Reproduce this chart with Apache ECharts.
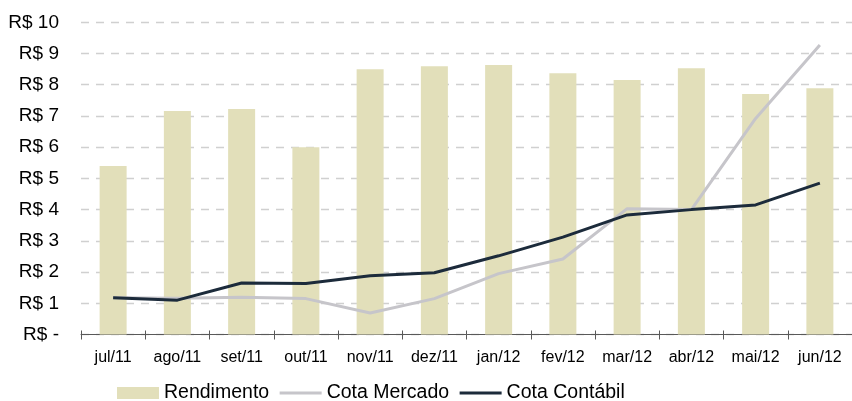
<!DOCTYPE html>
<html>
<head>
<meta charset="utf-8">
<script src="https://cdn.jsdelivr.net/npm/echarts@6/dist/echarts.min.js"></script>
<style>
html,body{margin:0;padding:0;background:#fff;}
#c{width:852px;height:401px;}
</style>
</head>
<body>
<div id="c"></div>
<script>
const categories = ['jul/11','ago/11','set/11','out/11','nov/11','dez/11','jan/12','fev/12','mar/12','abr/12','mai/12','jun/12'];
const rendimento = [5.40, 7.16, 7.22, 6.00, 8.50, 8.59, 8.63, 8.37, 8.15, 8.53, 7.70, 7.89];
const cotaMercado = [1.18, 1.16, 1.19, 1.15, 0.69, 1.15, 1.95, 2.42, 4.03, 4.00, 6.92, 9.27];
const cotaContabil = [1.18, 1.10, 1.65, 1.63, 1.88, 1.98, 2.52, 3.12, 3.83, 4.00, 4.15, 4.85];
const yTicks = {min: 0, max: 10, interval: 1};

const font = 'Liberation Sans, Arial, sans-serif';
const chart = echarts.init(document.getElementById('c'), null, {renderer: 'canvas'});
chart.setOption({
  animation: false,
  backgroundColor: '#ffffff',
  grid: {left: 81, top: 22.3, width: 775, bottom: 66.5, containLabel: false},
  legend: {
    left: 117, top: 383, padding: 0,
    itemWidth: 42, itemHeight: 12, itemGap: 9,
    textStyle: {fontFamily: font, fontSize: 19.5, color: '#000'},
    data: [
      {name: 'Rendimento', icon: 'rect'},
      {name: 'Cota Mercado', itemStyle: {opacity: 0}, lineStyle: {width: 3}},
      {name: 'Cota Contábil', itemStyle: {opacity: 0}, lineStyle: {width: 3}}
    ]
  },
  xAxis: [{
    type: 'category',
    data: categories,
    position: 'bottom',
    axisLine: {lineStyle: {color: '#595959', width: 1}},
    axisTick: {show: true, inside: false, length: 5, lineStyle: {color: '#595959'}},
    axisLabel: {fontFamily: font, fontSize: 16, color: '#000', margin: 15, interval: 0},
    splitLine: {show: false}
  }, {
    type: 'category',
    data: categories,
    position: 'bottom',
    offset: 0,
    axisLine: {show: false},
    axisTick: {show: true, inside: true, length: 4, lineStyle: {color: '#595959'}},
    axisLabel: {show: false},
    splitLine: {show: false}
  }],
  yAxis: {
    type: 'value',
    min: yTicks.min, max: yTicks.max, interval: yTicks.interval,
    axisLine: {show: false},
    axisTick: {show: false},
    axisLabel: {
      fontFamily: font, fontSize: 19, color: '#000', margin: 22,
      formatter: v => v === 0 ? 'R$ -' : 'R$ ' + v
    },
    splitLine: {lineStyle: {color: '#d0d0d0', width: 1.3, type: [8, 7]}}
  },
  series: [
    {
      name: 'Rendimento', type: 'bar', data: rendimento,
      barWidth: 27,
      itemStyle: {color: '#e2dfba'}
    },
    {
      name: 'Cota Mercado', type: 'line', data: cotaMercado,
      symbol: 'none', lineStyle: {color: '#c6c5ca', width: 3},
      itemStyle: {color: '#c6c5ca'}
    },
    {
      name: 'Cota Contábil', type: 'line', data: cotaContabil,
      symbol: 'none', lineStyle: {color: '#1c2b3b', width: 3},
      itemStyle: {color: '#1c2b3b'}
    }
  ]
});
</script>
</body>
</html>
